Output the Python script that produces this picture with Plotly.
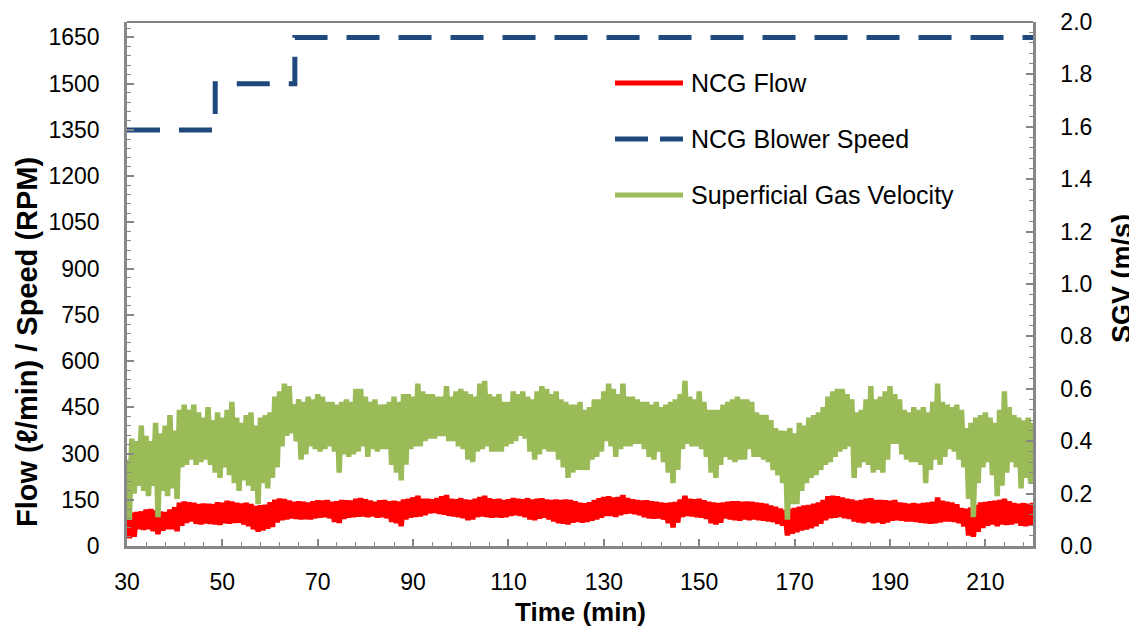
import numpy as np
import plotly.graph_objects as go

# ---------------- data ----------------
start_min = 30.0
step_min = 0.5

# NCG flow (l/min), samples every 0.5 min from 30 to 220
ncg_flow = [
    100, 25, 108, 30, 110, 55, 112, 52, 118, 55, 120, 48, 115, 38, 112, 50, 110, 55, 118, 55,
    126, 48, 140, 66, 144, 75, 142, 80, 140, 72, 136, 70, 138, 73, 137, 72, 136, 70, 142, 68,
    140, 74, 147, 72, 144, 75, 140, 76, 138, 70, 140, 64, 136, 54, 130, 46, 132, 50, 134, 56,
    142, 62, 150, 76, 154, 84, 152, 86, 147, 90, 143, 88, 145, 86, 143, 87, 141, 86, 145, 90,
    148, 92, 147, 94, 149, 90, 143, 78, 145, 75, 149, 88, 148, 92, 147, 94, 153, 95, 155, 96,
    151, 94, 147, 96, 143, 92, 148, 94, 149, 90, 145, 78, 147, 74, 144, 64, 151, 86, 153, 92,
    158, 94, 163, 96, 153, 100, 153, 106, 151, 108, 155, 104, 161, 102, 165, 98, 153, 96, 151, 94,
    155, 90, 151, 84, 149, 86, 153, 94, 159, 96, 163, 94, 155, 92, 151, 94, 153, 92, 149, 94,
    151, 98, 155, 100, 153, 98, 151, 94, 155, 86, 151, 84, 153, 89, 155, 92, 151, 86, 149, 80,
    151, 74, 149, 72, 151, 70, 149, 76, 145, 78, 140, 76, 138, 78, 142, 82, 149, 86, 155, 92,
    159, 98, 161, 98, 157, 94, 159, 100, 165, 104, 155, 106, 151, 104, 149, 100, 147, 94, 148, 90,
    145, 89, 143, 90, 141, 86, 139, 74, 141, 60, 143, 76, 151, 94, 163, 98, 153, 96, 151, 94,
    153, 92, 148, 88, 143, 74, 141, 70, 139, 76, 141, 90, 143, 86, 145, 84, 145, 82, 143, 86,
    144, 84, 143, 86, 141, 84, 139, 82, 137, 80, 131, 78, 127, 72, 121, 66, 117, 34, 121, 40,
    123, 45, 127, 50, 131, 54, 133, 58, 137, 64, 141, 72, 149, 84, 161, 90, 163, 92, 161, 94,
    157, 90, 153, 88, 151, 80, 147, 76, 149, 74, 153, 78, 155, 74, 149, 76, 149, 72, 148, 76,
    147, 82, 149, 84, 141, 82, 139, 80, 137, 80, 139, 78, 137, 76, 139, 74, 141, 72, 143, 74,
    157, 76, 147, 80, 143, 80, 141, 78, 135, 74, 123, 64, 121, 34, 125, 30, 133, 46, 141, 58,
    143, 66, 145, 70, 147, 64, 149, 70, 153, 68, 145, 70, 139, 74, 137, 66, 139, 64, 137, 68,
    140,
]

# Superficial gas velocity (m/s), samples every 0.5 min from 30 to 220
sgv = [
    .33, .10, .41, .20, .40, .23, .46, .21, .42, .19, .40, .23, .47, .11, .43, .21, .46, .19, .50, .22,
    .44, .18, .52, .30, .54, .31, .52, .33, .54, .31, .51, .32, .49, .33, .53, .31, .48, .28, .51, .26,
    .49, .30, .52, .27, .55, .24, .49, .21, .47, .25, .50, .23, .51, .21, .46, .16, .49, .24, .50, .22,
    .51, .26, .57, .30, .59, .38, .62, .42, .61, .43, .54, .40, .56, .33, .55, .35, .57, .38, .56, .37,
    .58, .36, .57, .37, .55, .38, .55, .36, .54, .28, .55, .35, .56, .34, .55, .35, .60, .36, .60, .38,
    .57, .34, .55, .37, .56, .36, .54, .37, .54, .37, .55, .31, .57, .28, .55, .25, .58, .31, .58, .37,
    .57, .38, .62, .38, .59, .40, .58, .41, .58, .41, .57, .42, .57, .42, .61, .40, .57, .40, .59, .38,
    .60, .37, .59, .33, .58, .32, .57, .36, .62, .37, .63, .38, .58, .36, .57, .36, .58, .36, .55, .38,
    .55, .39, .59, .40, .58, .42, .59, .41, .57, .36, .56, .33, .59, .35, .61, .37, .60, .36, .58, .36,
    .59, .33, .56, .30, .55, .26, .54, .28, .54, .29, .55, .29, .52, .29, .53, .33, .56, .34, .56, .36,
    .59, .40, .62, .38, .60, .34, .58, .37, .62, .38, .57, .38, .57, .39, .56, .39, .55, .37, .55, .34,
    .54, .33, .55, .36, .53, .32, .54, .28, .55, .24, .56, .29, .58, .37, .63, .39, .57, .38, .56, .38,
    .59, .37, .55, .34, .52, .28, .52, .26, .52, .31, .54, .34, .55, .33, .56, .32, .57, .33, .56, .33,
    .56, .37, .55, .34, .51, .34, .50, .33, .50, .32, .48, .29, .45, .27, .44, .24, .44, .10, .45, .16,
    .43, .16, .47, .21, .46, .24, .49, .26, .50, .27, .51, .29, .53, .31, .57, .32, .59, .34, .60, .36,
    .60, .37, .58, .38, .56, .26, .51, .30, .52, .32, .56, .31, .61, .28, .56, .29, .57, .28, .59, .33,
    .61, .39, .58, .39, .56, .35, .52, .33, .51, .32, .53, .32, .52, .31, .53, .24, .51, .29, .55, .33,
    .62, .31, .55, .34, .54, .37, .53, .36, .54, .33, .52, .30, .45, .18, .47, .11, .49, .24, .50, .30,
    .51, .32, .49, .27, .47, .19, .52, .23, .59, .28, .53, .32, .50, .30, .49, .22, .48, .26, .49, .24,
    .47,
]

# NCG blower speed (RPM) step changes
blower_time = [30, 48.5, 65.2, 220]
blower_rpm = [1350, 1500, 1650, 1650]

series_names = ["NCG Flow", "NCG Blower Speed", "Superficial Gas Velocity"]
x_ticks = [30, 50, 70, 90, 110, 130, 150, 170, 190, 210]
y_ticks = [0, 150, 300, 450, 600, 750, 900, 1050, 1200, 1350, 1500, 1650]
y2_ticks = [0.0, 0.2, 0.4, 0.6, 0.8, 1.0, 1.2, 1.4, 1.6, 1.8, 2.0]

time_flow = start_min + step_min * np.arange(len(ncg_flow))
time_sgv = start_min + step_min * np.arange(len(sgv))

RED = "#FF0000"
BLUE = "#1F497D"
GREEN = "#9BBB59"
AXIS = "#868686"
FONT = "Arial, Liberation Sans, sans-serif"

fig = go.Figure()
fig.add_trace(go.Scatter(x=time_flow, y=ncg_flow, mode="lines", name=series_names[0],
                         line=dict(color=RED, width=5.5), showlegend=False))
fig.add_trace(go.Scatter(x=blower_time, y=blower_rpm, mode="lines", name=series_names[1],
                         line=dict(color=BLUE, width=5, dash="33px,19px", shape="hv"),
                         showlegend=False))
fig.add_trace(go.Scatter(x=time_sgv, y=sgv, mode="lines", name=series_names[2], yaxis="y2",
                         line=dict(color=GREEN, width=5.5), showlegend=False))

# the page body adds an 8px offset, so the figure is 8px smaller and margins shifted
tickfont = dict(family=FONT, size=23, color="black")
fig.update_layout(
    width=1129, height=625,
    margin=dict(l=119, r=104, t=14, b=87, autoexpand=False),
    paper_bgcolor="white", plot_bgcolor="white",
    xaxis=dict(range=[30, 220], tickvals=x_ticks, ticks="inside", ticklen=7, tickwidth=1.5,
               tickcolor=AXIS, showline=True, linecolor=AXIS, linewidth=2.5, showgrid=False,
               zeroline=False, tickfont=tickfont, ticklabelstandoff=14, automargin=False,
               minor=dict(dtick=4, tick0=30, ticks="inside", ticklen=4, tickcolor=AXIS, tickwidth=1)),
    yaxis=dict(range=[0, 1700], tickvals=y_ticks, ticks="inside", ticklen=7, tickwidth=1.5,
               tickcolor=AXIS, showline=True, linecolor=AXIS, linewidth=2.5, showgrid=False,
               zeroline=False, tickfont=tickfont, ticklabelstandoff=20, automargin=False,
               minor=dict(dtick=30, tick0=0, ticks="inside", ticklen=4, tickcolor=AXIS, tickwidth=1)),
    yaxis2=dict(range=[0, 2.0], tickvals=y2_ticks, tickformat=".1f", overlaying="y", side="right",
                ticks="inside", ticklen=7, tickwidth=1.5, tickcolor=AXIS, showline=True,
                linecolor=AXIS, linewidth=2.5, showgrid=False, zeroline=False, tickfont=tickfont,
                ticklabelstandoff=20, automargin=False,
                minor=dict(dtick=0.04, tick0=0, ticks="inside", ticklen=4, tickcolor=AXIS, tickwidth=1)),
)

# top border of plot area
fig.add_shape(type="line", xref="paper", yref="paper", x0=0, x1=1, y0=1, y1=1,
              line=dict(color="black", width=1))

# axis titles
fig.add_annotation(text="<b>Time (min)</b>", xref="paper", yref="paper", x=0.501, y=-0.126,
                   showarrow=False, font=dict(family=FONT, size=26, color="black"),
                   xanchor="center", yanchor="middle")
fig.add_annotation(text="<b>Flow (ℓ/min) / Speed (RPM)</b>", xref="paper", yref="paper",
                   x=-0.111, y=0.39, textangle=-90, showarrow=False,
                   font=dict(family=FONT, size=29, color="black"),
                   xanchor="center", yanchor="middle")
fig.add_annotation(text="<b>SGV (m/s)</b>", xref="paper", yref="paper", x=1.098, y=0.511,
                   textangle=-90, showarrow=False, font=dict(family=FONT, size=27, color="black"),
                   xanchor="center", yanchor="middle")

# legend (drawn manually to match the long line samples)
legend_rows = [83, 139, 195]
legend_styles = [dict(color=RED, width=5), dict(color=BLUE, width=5, dash="33px,12px"),
                 dict(color=GREEN, width=5)]
for name, ypx, style in zip(series_names, legend_rows, legend_styles):
    yp = (546 - ypx) / 524
    fig.add_shape(type="line", xref="paper", yref="paper", x0=(615 - 127) / 906,
                  x1=(683 - 127) / 906, y0=yp, y1=yp, line=style)
    fig.add_annotation(text=name, xref="paper", yref="paper", x=(689 - 127) / 906, y=yp,
                       showarrow=False, xanchor="left", yanchor="middle",
                       font=dict(family=FONT, size=25, color="black"))

fig.write_html("out.html")
